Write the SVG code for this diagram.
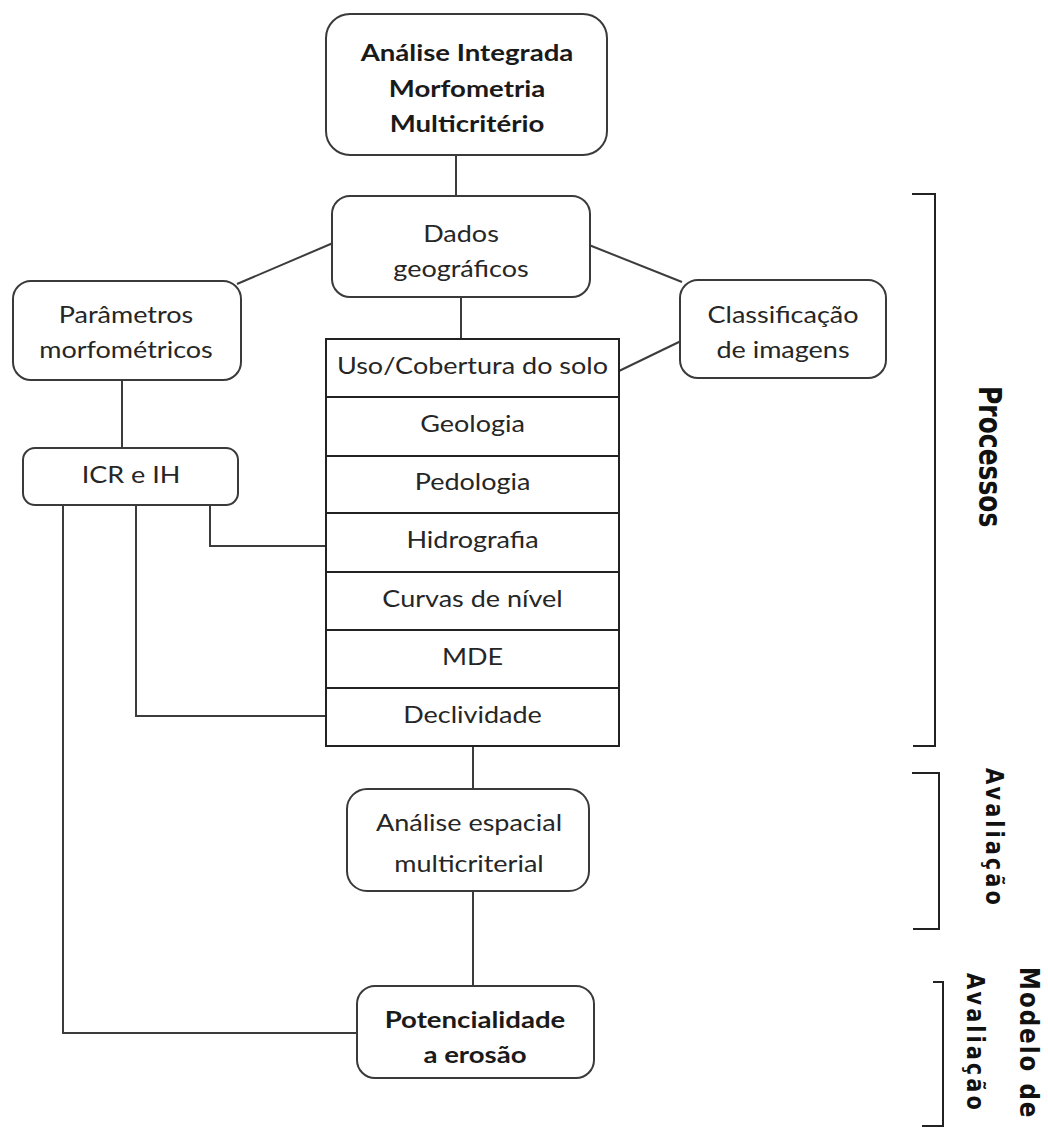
<svg xmlns="http://www.w3.org/2000/svg" width="1048" height="1135" viewBox="0 0 1048 1135">
<style>
.box{fill:#fff;stroke:#3a3a3a;stroke-width:2}
.cell{fill:#fff;stroke:#222;stroke-width:2}
.conn{fill:none;stroke:#3c3c3c;stroke-width:2}
.brk{fill:none;stroke:#222;stroke-width:2}
.t{font-family:Lato,"Liberation Sans",sans-serif;font-size:22.5px;fill:#262626;text-anchor:middle}
.tb{font-weight:700;font-size:23px;fill:#1a1a1a}
.lab{font-family:"DejaVu Sans","Liberation Sans",sans-serif;font-weight:700;fill:#111}
</style>
<rect width="1048" height="1135" fill="#fff"/>
<g id="connectors">
<line class="conn" x1="456" y1="155" x2="456" y2="196"/>
<line class="conn" x1="237" y1="284" x2="333" y2="243"/>
<line class="conn" x1="589" y1="245" x2="682" y2="282"/>
<line class="conn" x1="619" y1="371" x2="681" y2="341"/>
<line class="conn" x1="461" y1="297" x2="461" y2="339"/>
<line class="conn" x1="122" y1="380" x2="122" y2="448"/>
<polyline class="conn" points="210,505 210,546 326,546"/>
<polyline class="conn" points="136,505 136,716 326,716"/>
<polyline class="conn" points="63,505 63,1033 357,1033"/>
<line class="conn" x1="473" y1="746" x2="473" y2="789"/>
<line class="conn" x1="473" y1="891" x2="473" y2="986"/>
</g>
<g id="n-analise-integrada">
<rect class="box" x="326" y="14" width="281" height="141" rx="24"/>
<text class="t tb" transform="translate(467 61) scale(1.2 1)">Análise Integrada</text>
<text class="t tb" transform="translate(467 97) scale(1.2 1)">Morfometria</text>
<text class="t tb" transform="translate(467 132) scale(1.2 1)">Multicritério</text>
</g>
<g id="n-dados">
<rect class="box" x="332" y="196" width="258" height="101" rx="18"/>
<text class="t" transform="translate(461 242) scale(1.2 1)">Dados</text>
<text class="t" transform="translate(461 277) scale(1.2 1)">geográficos</text>
</g>
<g id="n-parametros">
<rect class="box" x="13" y="281" width="228" height="99" rx="18"/>
<text class="t" transform="translate(126 323) scale(1.2 1)">Parâmetros</text>
<text class="t" transform="translate(126 358) scale(1.2 1)">morfométricos</text>
</g>
<g id="n-classificacao">
<rect class="box" x="680" y="280" width="206" height="98" rx="18"/>
<text class="t" transform="translate(783 323) scale(1.2 1)">Classificação</text>
<text class="t" transform="translate(783 358) scale(1.2 1)">de imagens</text>
</g>
<g id="n-icr">
<rect class="box" x="23" y="448" width="215" height="57" rx="12"/>
<text class="t" transform="translate(131 483) scale(1.2 1)">ICR e IH</text>
</g>
<g id="n-camadas">
<g id="n-uso"><rect class="cell" x="326" y="339" width="293" height="58"/><text class="t" transform="translate(472.5 374) scale(1.2 1)">Uso/Cobertura do solo</text></g>
<g id="n-geologia"><rect class="cell" x="326" y="397" width="293" height="59"/><text class="t" transform="translate(472.5 432) scale(1.2 1)">Geologia</text></g>
<g id="n-pedologia"><rect class="cell" x="326" y="456" width="293" height="57"/><text class="t" transform="translate(472.5 490) scale(1.2 1)">Pedologia</text></g>
<g id="n-hidrografia"><rect class="cell" x="326" y="513" width="293" height="59"/><text class="t" transform="translate(472.5 548) scale(1.2 1)">Hidrografia</text></g>
<g id="n-curvas"><rect class="cell" x="326" y="572" width="293" height="58"/><text class="t" transform="translate(472.5 607) scale(1.2 1)">Curvas de nível</text></g>
<g id="n-mde"><rect class="cell" x="326" y="630" width="293" height="58"/><text class="t" transform="translate(472.5 665) scale(1.2 1)">MDE</text></g>
<g id="n-declividade"><rect class="cell" x="326" y="688" width="293" height="58"/><text class="t" transform="translate(472.5 723) scale(1.2 1)">Declividade</text></g>
</g>
<g id="n-analise-espacial">
<rect class="box" x="347" y="789" width="242" height="102" rx="20"/>
<text class="t" transform="translate(469 831) scale(1.2 1)">Análise espacial</text>
<text class="t" transform="translate(469 872) scale(1.2 1)">multicriterial</text>
</g>
<g id="n-potencialidade">
<rect class="box" x="357" y="986" width="237" height="92" rx="18"/>
<text class="t tb" transform="translate(475 1028) scale(1.2 1)">Potencialidade</text>
<text class="t tb" transform="translate(475 1063) scale(1.2 1)">a erosão</text>
</g>
<g id="brackets">
<polyline class="brk" points="912,194 935,194 935,746 913,746"/>
<polyline class="brk" points="912,773 939,773 939,929 913,929"/>
<polyline class="brk" points="933,982 943,982 943,1126 922,1126"/>
<text class="lab" font-size="25" transform="translate(979 386) scale(1.3 1) rotate(90)">Processos</text>
<text class="lab" font-size="21" letter-spacing="3" transform="translate(986 768) scale(1.15 1) rotate(90)">Avaliação</text>
<text class="lab" font-size="23" letter-spacing="2" transform="translate(1020 967) scale(1.12 1) rotate(90)">Modelo de</text>
<text class="lab" font-size="21" letter-spacing="3" transform="translate(967 973) scale(1.15 1) rotate(90)">Avaliação</text>
</g>
</svg>
